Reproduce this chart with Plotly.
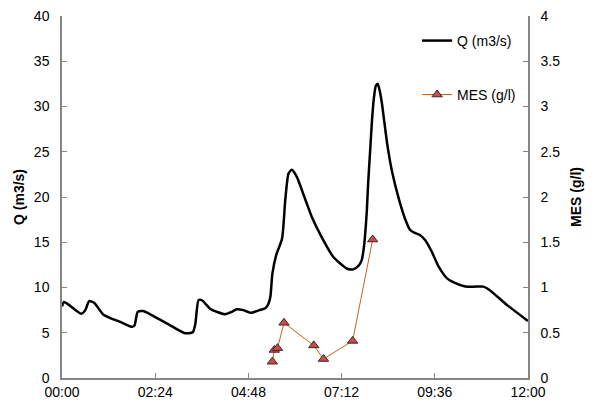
import plotly.graph_objects as go

# Discharge Q (m3/s): time in minutes after 00:00
q_time = [0, 3, 12, 30, 36, 42, 50, 64, 90, 108, 112, 117, 125, 140, 170, 190, 202, 206,
          211, 216, 230, 252, 262, 270, 280, 291, 305, 314, 319, 322, 325, 331, 340, 345,
          350, 355, 363, 376, 386, 401, 419, 440, 450, 458, 463, 466, 468, 471, 473, 476,
          479, 482, 485, 488, 491, 494, 498, 502, 506, 510, 520, 530, 538, 546, 553, 561,
          571, 582, 595, 607, 623, 640, 651, 661, 687, 720]
q_vals = [7.9, 8.4, 8.0, 7.1, 7.5, 8.5, 8.3, 7.0, 6.2, 5.65, 5.8, 7.3, 7.4, 6.9, 5.7, 4.95,
          5.05, 6.0, 8.6, 8.6, 7.6, 7.05, 7.3, 7.6, 7.5, 7.2, 7.5, 7.7, 8.2, 9.0, 11.5, 13.6,
          15.4, 19.7, 22.6, 23.0, 22.2, 19.7, 17.8, 15.6, 13.4, 12.1, 12.0, 12.4, 13.0, 14.2,
          15.5, 18.5, 21.5, 25.0, 28.5, 31.0, 32.3, 32.5, 31.7, 30.5, 28.3, 26.1, 24.3, 22.8,
          19.9, 17.6, 16.35, 16.0, 15.8, 15.25, 14.0, 12.3, 11.0, 10.5, 10.1, 10.1, 10.1,
          9.7, 8.1, 6.3]

# Suspended matter MES (g/l)
mes_time = [325, 328, 333, 343, 389, 404, 449, 480]
mes_vals = [0.18, 0.31, 0.33, 0.61, 0.36, 0.21, 0.41, 1.53]

x_tickvals = [0, 144, 288, 432, 576, 720]
x_ticktext = ["00:00", "02:24", "04:48", "07:12", "09:36", "12:00"]

FONT = "Liberation Sans, Arial, sans-serif"
AXC = "#868686"

fig = go.Figure()
fig.add_trace(go.Scatter(
    x=q_time, y=q_vals, mode="lines", name="Q (m3/s)",
    line=dict(color="black", width=2.5, shape="spline", smoothing=0.6),
    legend="legend", showlegend=True))
fig.add_trace(go.Scatter(
    x=mes_time, y=mes_vals, mode="lines+markers", name="MES (g/l)", yaxis="y2",
    line=dict(color="#C0651F", width=1),
    marker=dict(symbol="triangle-up", size=9, color="#C0504D",
                line=dict(color="#4a2020", width=1)),
    legend="legend2", showlegend=True))

fig.update_layout(
    width=588, height=407,
    margin=dict(l=54, r=68, t=8, b=37),
    showlegend=True,
    paper_bgcolor="white", plot_bgcolor="white",
    font=dict(family=FONT, size=14, color="black"),
    xaxis=dict(range=[0, 720], tickvals=x_tickvals, ticktext=x_ticktext,
               showline=True, linecolor=AXC, linewidth=1.5, ticks="inside",
               tickcolor=AXC, ticklen=5, showgrid=False, zeroline=False,
               ticklabeloverflow="allow"),
    yaxis=dict(range=[0, 40], dtick=5, showline=True, linecolor=AXC, linewidth=1.5,
               ticks="inside", tickcolor=AXC, ticklen=5, showgrid=False, zeroline=False,
               ticklabelstandoff=8, automargin=False, ticklabeloverflow="allow",
               title=dict(text="<b>Q (m3/s)</b>", font=dict(size=14), standoff=6)),
    yaxis2=dict(range=[0, 4], dtick=0.5, overlaying="y", side="right", showline=True,
                linecolor=AXC, linewidth=1.5, ticks="inside", tickcolor=AXC, ticklen=5,
                showgrid=False, zeroline=False, ticklabelstandoff=8, automargin=False,
                ticklabeloverflow="allow",
                title=dict(text="<b>MES (g/l)</b>", font=dict(size=14), standoff=12)),
    legend=dict(x=0.762, y=0.931, xanchor="left", yanchor="middle",
                bgcolor="rgba(0,0,0,0)", font=dict(size=14)),
    legend2=dict(x=0.762, y=0.782, xanchor="left", yanchor="middle",
                 bgcolor="rgba(0,0,0,0)", font=dict(size=14)),
)

fig.write_html("out.html")
